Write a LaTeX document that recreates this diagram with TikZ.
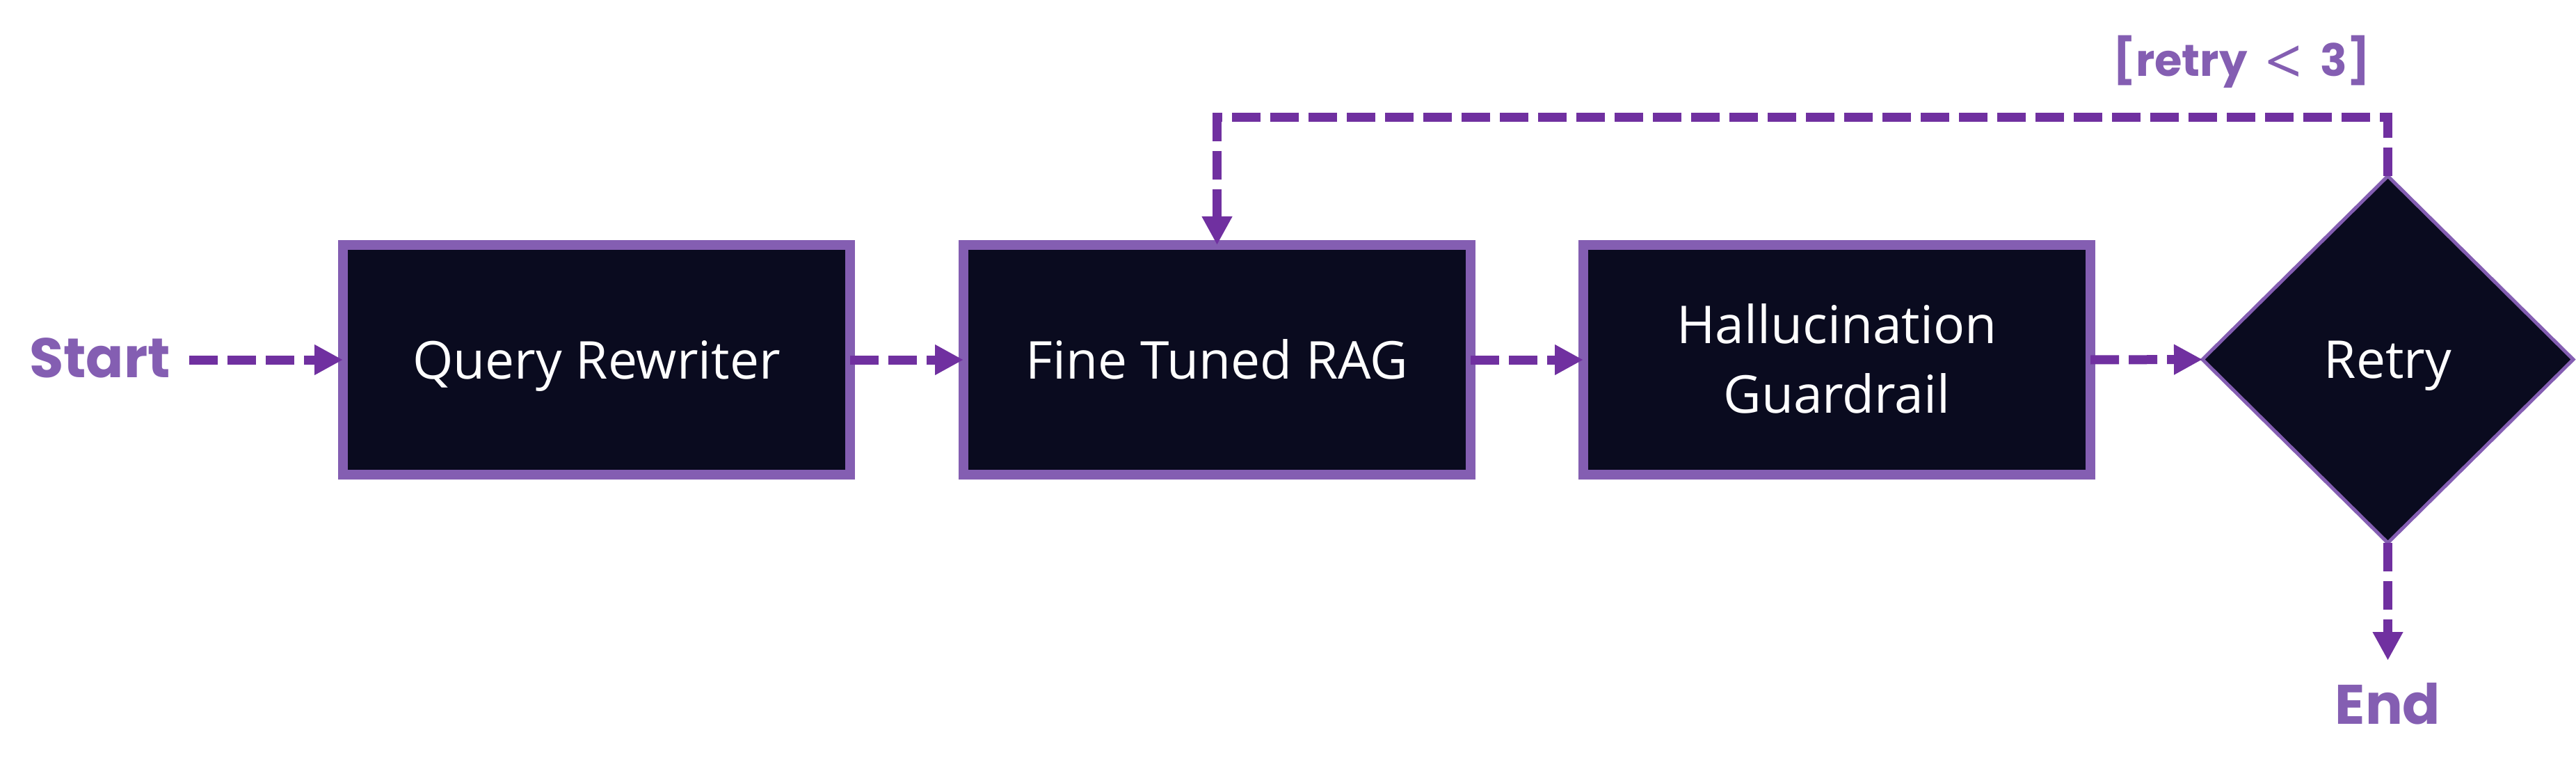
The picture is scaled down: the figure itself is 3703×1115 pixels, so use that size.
\documentclass[tikz,border=0pt]{standalone}
\usepackage{fontspec}
\setmainfont{Open Sans}
\newfontfamily\lblfont{Poppins}
\newfontfamily\ltfont{Open Sans}
\usetikzlibrary{arrows.meta,shapes.geometric}
\definecolor{conn}{HTML}{7030A0}
\definecolor{bord}{HTML}{845EB2}
\definecolor{fillc}{HTML}{0A0B1F}
\begin{document}
\begin{tikzpicture}[x=1pt,y=-1pt,
  box/.style={draw=bord, fill=fillc, line width=14pt, minimum width=729pt, minimum height=330pt,
    inner sep=0pt, outer sep=0pt, text=white, font=\fontsize{75}{100}\selectfont, align=center,
    text height=54pt, text depth=0pt},
  decision/.style={diamond, draw=bord, fill=fillc, line width=5pt, minimum width=533pt, minimum height=527pt,
    inner sep=0pt, outer sep=0pt, text=white, font=\fontsize{75}{100}\selectfont,
    text height=54pt, text depth=0pt},
  flow/.style={draw=conn, line width=13pt, dash pattern=on 41pt off 14pt,
    -{Triangle[length=41pt,width=41pt]}},
  term/.style={text=bord, font=\lblfont\bfseries\fontsize{80}{96}\selectfont, inner sep=0pt, anchor=base},
  guard/.style={text=bord, font=\lblfont\bfseries\fontsize{64}{74}\selectfont, inner sep=0pt, anchor=base}
]
\useasboundingbox (0,0) rectangle (3703,1115);

\node[box] (qr) at (857.5,517) {Query Rewriter};
\node[box] (rag) at (1749.5,517) {Fine Tuned RAG};
\node[box, text height=153pt, text depth=0pt] (hg) at (2640.5,517) {Hallucination\\Guardrail};
\node[decision] (retry) at (3432.5,516.5) {Retry};

\node[term] (start) at (143.5,542) {Start};
\node[term] (end) at (3432.5,1040) {End};
\node[guard] (cond) at (3222,110) {{[}retry\hspace{26pt}{\ltfont\mdseries\fontsize{92}{92}\selectfont\raisebox{-12pt}{<}}\hspace{26pt}3{]}};

\coordinate (s0) at (272,517);
\coordinate (e0) at (3432.5,949);
\coordinate (top) at (3432.5,169);

\draw[flow] (s0) -- (qr.west);
\draw[flow] (qr.east) -- (rag.west);
\draw[flow] (rag.east) -- (hg.west);
\draw[flow] (hg.east) -- (retry.west);
\draw[flow] (retry.north) -- (top) -| (rag.north);
\draw[flow] (retry.south) -- (e0);
\end{tikzpicture}
\end{document}
